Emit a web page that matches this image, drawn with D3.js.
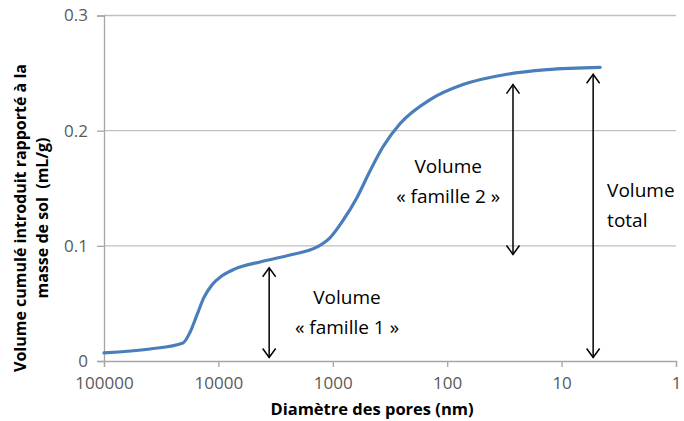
<!DOCTYPE html>
<html>
<head>
<meta charset="utf-8">
<script src="https://cdn.jsdelivr.net/npm/d3@7"></script>
<style>
  html, body { margin: 0; padding: 0; background: #fff; }
  svg { display: block; font-family: "Open Sans", "Noto Sans", sans-serif; }
</style>
</head>
<body>
<div id="chart"></div>
<script>
// ---- Data ----
const diameters = [100000, 39600, 20400, 17700, 15400, 13400, 11400, 9300, 7160, 4320, 2370, 1370, 1060, 815, 614, 473, 364, 259, 141, 72.8, 30, 13.4, 4.6];
const volumes   = [0.007, 0.0104, 0.0157, 0.025, 0.040, 0.055, 0.066, 0.074, 0.080, 0.086, 0.092, 0.099, 0.107, 0.122, 0.142, 0.165, 0.186, 0.206, 0.227, 0.240, 0.249, 0.253, 0.255];
const xTicks = [100000, 10000, 1000, 100, 10, 1];
const xTickLabels = ["100000", "10000", "1000", "100", "10", "1"];
const yTicks = [0, 0.1, 0.2, 0.3];
const yTickLabels = ["0", "0.1", "0.2", "0.3"];
// annotation arrows: [diameter, from volume, to volume]
const arrowX = [3600, 26.6, 5.3];
const arrowFrom = [0.003, 0.0925, 0.003];
const arrowTo = [0.081, 0.240, 0.249];
const labelLines = [["Volume", "« famille 1 »"], ["Volume", "« famille 2 »"], ["Volume", "total"]];
const labelDiam = [751, 98, 4.0];
const labelVol = [0.0496, 0.163, 0.142];
const labelAnchor = ["middle", "middle", "start"];

const W = 684, H = 421;
const svg = d3.select("#chart").append("svg").attr("width", W).attr("height", H);

const x = d3.scaleLog().domain([100000, 1]).range([104, 676]);
const y = d3.scaleLinear().domain([0, 0.3]).range([361, 15.5]);

const gridColor = "#bfbfbf";
const axisColor = "#a6a6a6";
const tickText = "#595959";

// gridlines
svg.append("g").selectAll("line").data(yTicks.filter(d => d > 0)).join("line")
  .attr("x1", x(100000)).attr("x2", x(1))
  .attr("y1", d => y(d)).attr("y2", d => y(d))
  .attr("stroke", gridColor).attr("stroke-width", 1.3);

// y axis
const yAxis = d3.axisLeft(y).tickValues(yTicks).tickFormat((d, i) => yTickLabels[i]).tickSize(7).tickPadding(9);
const gy = svg.append("g").attr("transform", `translate(${x(100000)},0)`).call(yAxis);
gy.select(".domain").attr("stroke", axisColor).attr("stroke-width", 1.3);
gy.selectAll(".tick line").attr("stroke", axisColor).attr("stroke-width", 1.3);
gy.selectAll(".tick text").attr("fill", tickText).attr("font-size", 17).attr("font-family", "Open Sans");

// x axis
const xAxis = d3.axisBottom(x).tickValues(xTicks).tickFormat((d, i) => xTickLabels[i]).tickSize(6).tickPadding(10);
const gx = svg.append("g").attr("transform", `translate(0,${y(0)})`).call(xAxis);
gx.select(".domain").attr("stroke", axisColor).attr("stroke-width", 1.3);
gx.selectAll(".tick line").attr("stroke", axisColor).attr("stroke-width", 1.3);
gx.selectAll(".tick text").attr("fill", tickText).attr("font-size", 17).attr("font-family", "Open Sans");

// curve
const pts = diameters.map((d, i) => [d, volumes[i]]);
const lineGen = d3.line().x(d => x(d[0])).y(d => y(d[1])).curve(d3.curveMonotoneX);
svg.append("path").datum(pts).attr("d", lineGen)
  .attr("fill", "none").attr("stroke", "#4a7ebb").attr("stroke-width", 3.2)
  .attr("stroke-linecap", "round").attr("stroke-linejoin", "round");

// arrows
const ag = svg.append("g").attr("stroke", "#000").attr("stroke-width", 1.5).attr("fill", "none");
arrowX.forEach((d, i) => {
  const xx = x(d), y1 = y(arrowFrom[i]), y2 = y(arrowTo[i]);
  ag.append("line").attr("x1", xx).attr("x2", xx).attr("y1", y1).attr("y2", y2);
  ag.append("path").attr("d", `M${xx - 6.5},${y2 + 9}L${xx},${y2}L${xx + 6.5},${y2 + 9}`);
  ag.append("path").attr("d", `M${xx - 6.5},${y1 - 9}L${xx},${y1}L${xx + 6.5},${y1 - 9}`);
});

// labels
labelLines.forEach((lines, i) => {
  const t = svg.append("text").attr("x", x(labelDiam[i])).attr("y", y(labelVol[i]))
    .attr("text-anchor", labelAnchor[i]).attr("font-size", 19).attr("fill", "#000");
  lines.forEach((l, j) => {
    t.append("tspan").attr("x", x(labelDiam[i])).attr("dy", j === 0 ? 0 : 30).text(l);
  });
});

// axis titles
svg.append("text").attr("x", 372).attr("y", 415).attr("text-anchor", "middle")
  .attr("font-size", 16.5).attr("font-weight", "bold").attr("fill", "#000")
  .text("Diamètre des pores (nm)");

const yt = svg.append("text").attr("transform", "translate(0,218) rotate(-90)")
  .attr("text-anchor", "middle").attr("font-size", 16).attr("font-weight", "bold").attr("fill", "#000")
  .style("white-space", "pre");
yt.append("tspan").attr("x", 0).attr("y", 26).text("Volume cumulé introduit rapporté à la");
yt.append("tspan").attr("x", 0).attr("y", 48).text("masse de sol  (mL/g)");
</script>
</body>
</html>
